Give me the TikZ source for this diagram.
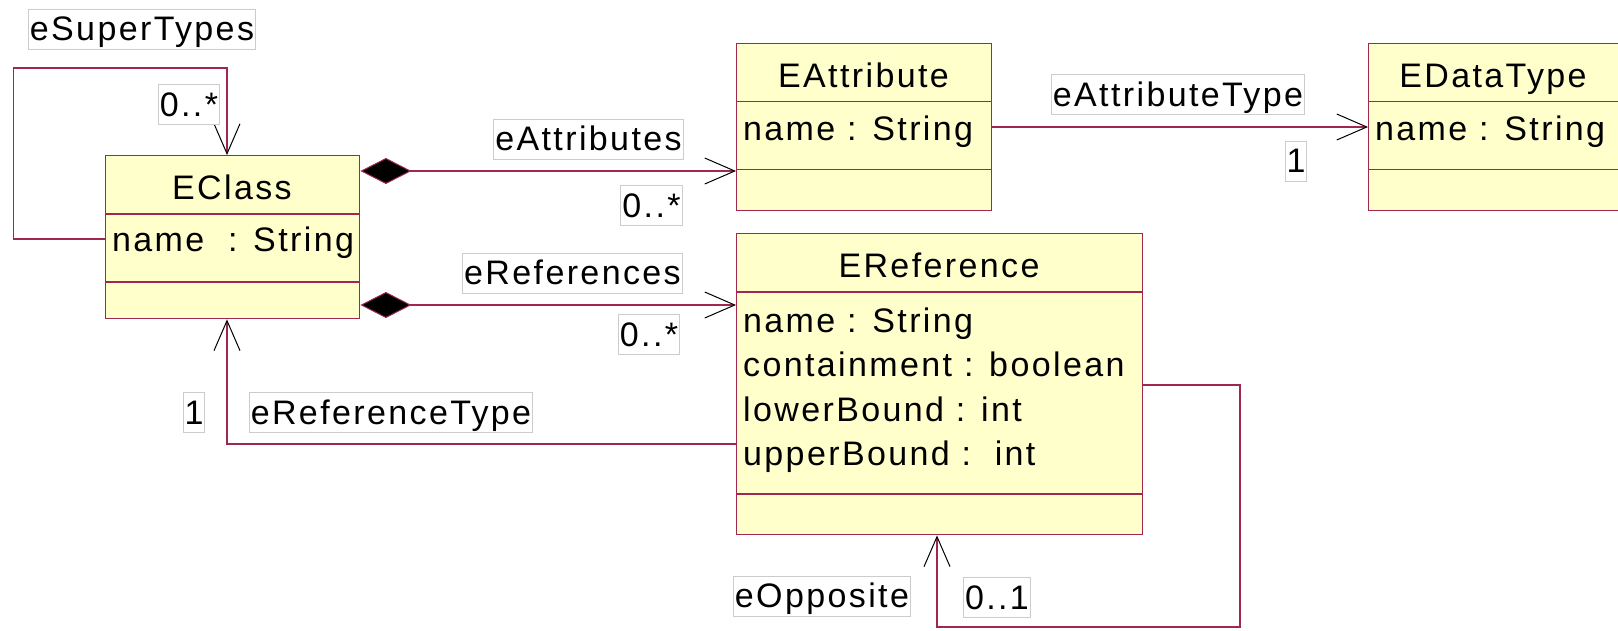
\documentclass[tikz,border=0pt]{standalone}
\usepackage{fontspec}
\setmainfont{Liberation Sans}[LetterSpace=7]
\usetikzlibrary{arrows.meta}
\definecolor{umlborder}{RGB}{160,40,80}
\definecolor{umlfill}{RGB}{255,255,204}
\definecolor{lblborder}{RGB}{204,204,204}
\tikzset{
  classbox/.style={draw=umlborder, fill=umlfill, line width=1.4pt, inner sep=0pt, anchor=north west},
  sepline/.style={draw=umlborder, line width=1.4pt},
  umltitle/.style={font=\fontsize{34}{40}\selectfont, inner sep=0pt, anchor=base},
  umlattr/.style={font=\fontsize{34}{40}\selectfont, inner sep=0pt, anchor=base west},
  lbl/.style={draw=lblborder, fill=white, line width=1pt, font=\fontsize{34}{40}\selectfont,
    inner xsep=1.5pt, inner ysep=3.5pt, text height=28pt, text depth=5pt},
  assoc/.style={draw=umlborder, line width=1.3pt},
  nav/.style={-{Straight Barb[length=30pt,width=26pt,line width=1pt,color=black]}},
  comp/.style={{Diamond[length=51pt,width=26pt,line width=1pt,color=umlborder,fill=black]}-{Straight Barb[length=30pt,width=26pt,line width=1pt,color=black]}},
}
\begin{document}
\begin{tikzpicture}[x=1pt,y=-1pt]
\useasboundingbox (0,0) rectangle (1618,630);
\clip (0,0) rectangle (1618,630);
\fill[white] (0,0) rectangle (1618,630);

% ---- classes ----
\node[classbox, minimum width=254pt, minimum height=163pt] (eclass) at (105,155) {};
\draw[sepline] (eclass.west |- 0,214) -- (eclass.east |- 0,214);
\draw[sepline] (eclass.west |- 0,282) -- (eclass.east |- 0,282);
\node[umltitle] (eclassT) at (232,199.5) {EClass};
\node[umlattr] (eclassA) at (112,251.5) {name\ \ : String};

\node[classbox, minimum width=255pt, minimum height=167pt] (eattr) at (736,43) {};
\draw[sepline] (eattr.west |- 0,101.5) -- (eattr.east |- 0,101.5);
\draw[sepline] (eattr.west |- 0,169.5) -- (eattr.east |- 0,169.5);
\node[umltitle] (eattrT) at (863.5,87.5) {EAttribute};
\node[umlattr] (eattrA) at (743,140) {name : String};

\node[classbox, minimum width=255pt, minimum height=167pt] (edt) at (1368,43) {};
\draw[sepline] (edt.west |- 0,101.5) -- (edt.east |- 0,101.5);
\draw[sepline] (edt.west |- 0,169.5) -- (edt.east |- 0,169.5);
\node[umltitle] (edtT) at (1493,87.5) {EDataType};
\node[umlattr] (edtA) at (1375,140) {name : String};

\node[classbox, minimum width=406pt, minimum height=301pt] (eref) at (736,233) {};
\draw[sepline] (eref.west |- 0,292) -- (eref.east |- 0,292);
\draw[sepline] (eref.west |- 0,494) -- (eref.east |- 0,494);
\node[umltitle] (erefT) at (939,277.5) {EReference};
\node[umlattr] (erefA1) at (743,332) {name : String};
\node[umlattr] (erefA2) at (743,376.5) {containment : boolean};
\node[umlattr] (erefA3) at (743,421) {lowerBound : int};
\node[umlattr] (erefA4) at (743,465.5) {upperBound :\ \ int};

% ---- bend points ----
\coordinate (st1) at (13.5,239);
\coordinate (st2) at (13.5,68);
\coordinate (st3) at (227,68);
\coordinate (ya) at (0,171);
\coordinate (yr) at (0,305);
\coordinate (yt) at (0,127);
\coordinate (rt1) at (227,444);
\coordinate (op1) at (1240,385);
\coordinate (op2) at (1240,627);
\coordinate (op3) at (937,627);

% ---- connectors ----
\draw[assoc,nav] (eclass.west |- st1) -- (st1) -- (st2) -- (st3) -- (eclass.north -| st3);
\draw[assoc,comp] (eclass.east |- ya) -- (eattr.west |- ya);
\draw[assoc,comp] (eclass.east |- yr) -- (eref.west |- yr);
\draw[assoc,nav] (eattr.east |- yt) -- (edt.west |- yt);
\draw[assoc,nav] (eref.west |- rt1) -- (rt1) -- (eclass.south -| rt1);
\draw[assoc,nav] (eref.east |- op1) -- (op1) -- (op2) -- (op3) -- (eref.south -| op3);

% ---- labels ----
\node[lbl] (lSuper) at (142,29) {eSuperTypes};
\node[lbl] (lSuperM) at (189,104.5) {0..*};
\node[lbl] (lAttrs) at (588.5,139) {eAttributes};
\node[lbl] (lAttrsM) at (651.5,205.5) {0..*};
\node[lbl] (lRefs) at (572.5,273) {eReferences};
\node[lbl] (lRefsM) at (649,334.5) {0..*};
\node[lbl] (lAttType) at (1178,94.5) {eAttributeType};
\node[lbl] (lAttTypeM) at (1296,161) {1};
\node[lbl] (lRefTypeM) at (194,412.5) {1};
\node[lbl] (lRefType) at (391,412.5) {eReferenceType};
\node[lbl] (lOpp) at (822,596) {eOpposite};
\node[lbl] (lOppM) at (997,597.5) {0..1};
\end{tikzpicture}
\end{document}
